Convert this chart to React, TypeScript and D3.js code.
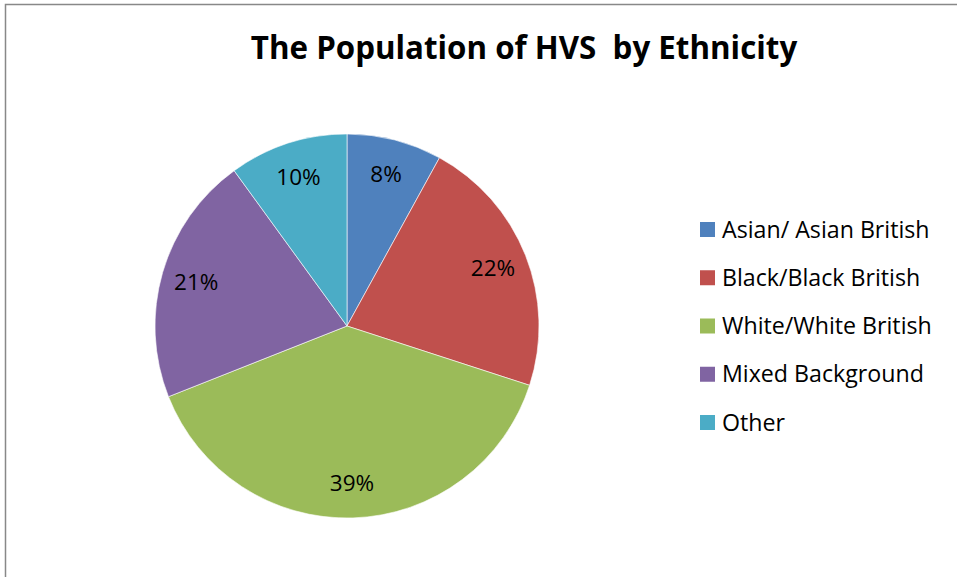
import React from "react";
import * as d3 from "d3";

const categories = ["Asian/ Asian British", "Black/Black British", "White/White British", "Mixed Background", "Other"];
const values = [8, 22, 39, 21, 10];
const colors = ["#4F81BD", "#C0504D", "#9BBB59", "#8064A2", "#4BACC6"];
const title = "The Population of HVS\u00A0 by Ethnicity";

const W = 957;
const H = 577;
const FONT = "'Open Sans', Lato, sans-serif";

export default function App() {
  const cx = 347;
  const cy = 326;
  const R = 192;
  const pie = d3.pie<number>().sort(null).value((d) => d);
  const arcs = pie(values);
  const arc = d3.arc<d3.PieArcDatum<number>>().innerRadius(0).outerRadius(R);
  const labelArc = d3.arc<d3.PieArcDatum<number>>().innerRadius(157).outerRadius(157);
  const total = d3.sum(values);
  const legendY = d3.scaleLinear().domain([0, categories.length - 1]).range([229.5, 422.5]);

  return (
    <svg width={W} height={H} style={{ position: "absolute", left: 0, top: 0, background: "#fff" }}>
      <rect x={0} y={0} width={W} height={H} fill="#fff" />
      <rect x={5.5} y={4.5} width={1200} height={1200} fill="none" stroke="#888" strokeWidth={1.5} />
      <text x={524} y={59} textAnchor="middle" fontFamily={FONT} fontWeight="bold" fontSize={31.3} fill="#000">
        {title}
      </text>
      <g transform={`translate(${cx},${cy})`}>
        {arcs.map((a, i) => (
          <path key={i} d={arc(a) || ""} fill={colors[i]} stroke="#fff" strokeWidth={0.6} />
        ))}
        {arcs.map((a, i) => {
          const [x, y] = labelArc.centroid(a);
          return (
            <text key={"l" + i} x={x} y={y} dy="0.36em" textAnchor="middle" fontFamily={FONT} fontSize={22.5} fill="#000">
              {d3.format(".0%")(values[i] / total)}
            </text>
          );
        })}
      </g>
      {categories.map((c, i) => (
        <g key={c} transform={`translate(700,${legendY(i)})`}>
          <rect x={0} y={-7.5} width={15} height={15} fill={colors[i]} />
          <text x={22} y={0} dy="0.35em" fontFamily={FONT} fontSize={23.2} fill="#000">
            {c}
          </text>
        </g>
      ))}
    </svg>
  );
}
